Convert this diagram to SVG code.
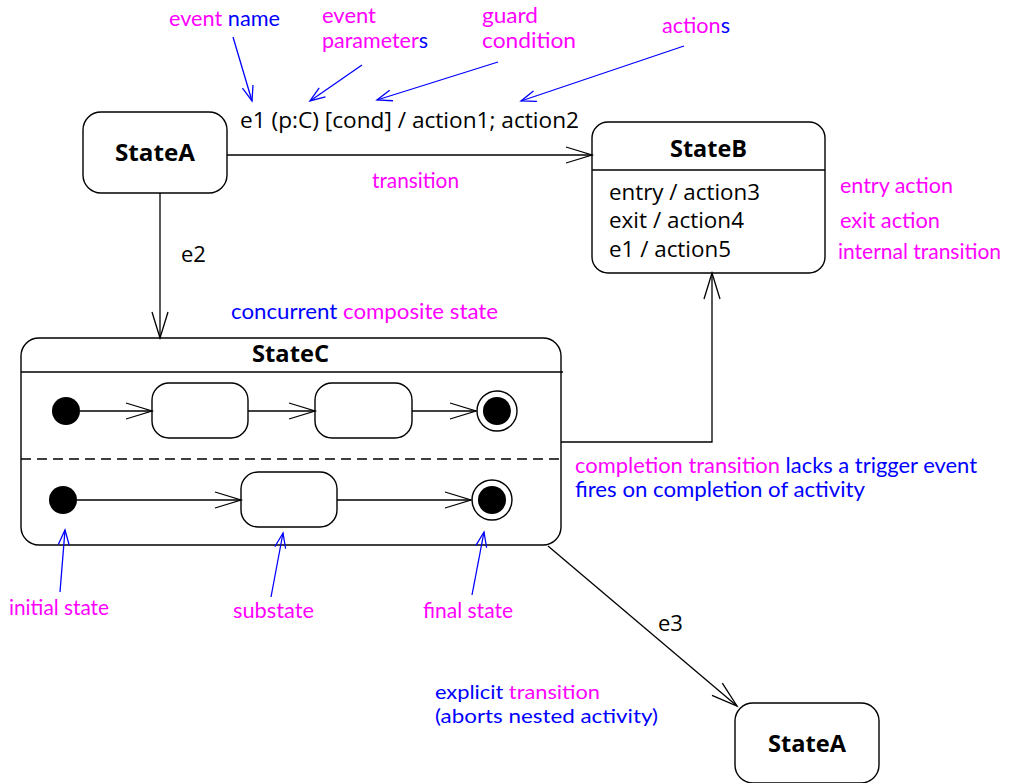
<svg xmlns="http://www.w3.org/2000/svg" width="1012" height="783" viewBox="0 0 1012 783">
<style>
.box{fill:#fff;stroke:#000;stroke-width:1.4}
.ln{fill:none;stroke:#000;stroke-width:1.3}
.bl{fill:none;stroke:#0000ff;stroke-width:1.3}
.dot{fill:#000}
.t{font-family:"Open Sans","Liberation Sans",sans-serif;font-size:22px;fill:#000}
.b{font-family:"Open Sans","Liberation Sans",sans-serif;font-size:24px;font-weight:bold;fill:#000}
.a{font-family:Lato,"Liberation Sans",sans-serif;font-size:21px;fill:#ff00ff}
.s{font-size:20px}
.u{fill:#0000ff}
</style>
<defs>
<marker id="ah" markerUnits="userSpaceOnUse" markerWidth="40" markerHeight="40" viewBox="-30 -20 40 40" refX="0" refY="0" orient="auto" overflow="visible">
<path d="M-26,-8 L0,0 L-26,8" fill="none" stroke="#000" stroke-width="1.3"/>
</marker>
<marker id="bh" markerUnits="userSpaceOnUse" markerWidth="30" markerHeight="30" viewBox="-20 -15 30 30" refX="0" refY="0" orient="auto" overflow="visible">
<path d="M-15,-5.5 L0,0 L-15,5.5" fill="none" stroke="#0000ff" stroke-width="1.3"/>
</marker>
</defs>
<rect width="1012" height="783" fill="#fff"/>

<g id="stateA">
<rect class="box" x="83" y="112" width="144" height="81" rx="18"/>
<text class="b" x="155" y="161" text-anchor="middle" textLength="80" lengthAdjust="spacingAndGlyphs">StateA</text>
</g>

<g id="stateB">
<rect class="box" x="592" y="122" width="233" height="151" rx="16"/>
<line class="ln" x1="592" y1="170" x2="825" y2="170"/>
<text class="b" x="708.5" y="157" text-anchor="middle" textLength="77" lengthAdjust="spacingAndGlyphs">StateB</text>
<text class="t" x="609" y="200" textLength="151" lengthAdjust="spacingAndGlyphs">entry / action3</text>
<text class="t" x="609" y="228" textLength="135" lengthAdjust="spacingAndGlyphs">exit / action4</text>
<text class="t" x="609" y="257" textLength="122" lengthAdjust="spacingAndGlyphs">e1 / action5</text>
</g>

<g id="stateC">
<rect class="box" x="21" y="338" width="540" height="207" rx="18"/>
<line class="ln" x1="21" y1="372" x2="563" y2="372"/>
<line class="ln" x1="21" y1="459" x2="563" y2="459" stroke-dasharray="10 6"/>
<text class="b" x="290.5" y="362" text-anchor="middle" textLength="77" lengthAdjust="spacingAndGlyphs">StateC</text>
</g>

<g id="initial1"><circle class="dot" cx="66" cy="411" r="14"/></g>
<g id="sub1"><rect class="box" x="152" y="383" width="96" height="55" rx="17"/></g>
<g id="sub2"><rect class="box" x="315" y="383" width="97" height="55" rx="17"/></g>
<g id="final1"><circle class="box" cx="497" cy="411" r="20"/><circle class="dot" cx="497" cy="411" r="14"/></g>
<g id="initial2"><circle class="dot" cx="63" cy="500" r="14"/></g>
<g id="sub3"><rect class="box" x="241" y="472" width="96" height="55" rx="17"/></g>
<g id="final2"><circle class="box" cx="492" cy="500" r="20"/><circle class="dot" cx="492" cy="500" r="14"/></g>

<g id="stateA2">
<rect class="box" x="735" y="703" width="144" height="80" rx="18"/>
<text class="b" x="807" y="752" text-anchor="middle" textLength="78" lengthAdjust="spacingAndGlyphs">StateA</text>
</g>

<g id="connectors">
<line class="ln" x1="227" y1="155" x2="592" y2="155" marker-end="url(#ah)"/>
<line class="ln" x1="160" y1="193" x2="160" y2="338" marker-end="url(#ah)"/>
<polyline class="ln" points="561,442 712,442 712,273" marker-end="url(#ah)"/>
<line class="ln" x1="548" y1="546" x2="737" y2="706" marker-end="url(#ah)"/>
<line class="ln" x1="80" y1="411" x2="152" y2="411" marker-end="url(#ah)"/>
<line class="ln" x1="248" y1="411" x2="315" y2="411" marker-end="url(#ah)"/>
<line class="ln" x1="412" y1="411" x2="476" y2="411" marker-end="url(#ah)"/>
<line class="ln" x1="77" y1="500" x2="241" y2="500" marker-end="url(#ah)"/>
<line class="ln" x1="337" y1="500" x2="471" y2="500" marker-end="url(#ah)"/>
<text class="t" x="240" y="128" textLength="339" lengthAdjust="spacingAndGlyphs">e1 (p:C) [cond] / action1; action2</text>
<text class="t" x="181" y="262">e2</text>
<text class="t" x="658" y="631">e3</text>
</g>

<g id="annotations">
<line class="bl" x1="233" y1="37" x2="252" y2="101" marker-end="url(#bh)"/>
<line class="bl" x1="362" y1="65" x2="310" y2="101" marker-end="url(#bh)"/>
<line class="bl" x1="498" y1="62" x2="377" y2="100" marker-end="url(#bh)"/>
<line class="bl" x1="684" y1="46" x2="521" y2="101" marker-end="url(#bh)"/>
<line class="bl" x1="60" y1="592" x2="65" y2="530" marker-end="url(#bh)"/>
<line class="bl" x1="271" y1="597" x2="283" y2="533" marker-end="url(#bh)"/>
<line class="bl" x1="472" y1="595" x2="484" y2="532" marker-end="url(#bh)"/>

<text class="a" x="169" y="26" textLength="111" lengthAdjust="spacingAndGlyphs">event <tspan class="u">name</tspan></text>
<text class="a" x="322" y="23" textLength="54" lengthAdjust="spacingAndGlyphs">event</text>
<text class="a" x="322" y="48" textLength="106" lengthAdjust="spacingAndGlyphs">parameter<tspan class="u">s</tspan></text>
<text class="a" x="482" y="23" textLength="56" lengthAdjust="spacingAndGlyphs">guard</text>
<text class="a" x="482" y="48" textLength="94" lengthAdjust="spacingAndGlyphs">condition</text>
<text class="a" x="662" y="33" textLength="68" lengthAdjust="spacingAndGlyphs">action<tspan class="u">s</tspan></text>
<text class="a" x="372" y="188" textLength="87" lengthAdjust="spacingAndGlyphs">transition</text>
<text class="a" x="231" y="319" textLength="267" lengthAdjust="spacingAndGlyphs"><tspan class="u">concurrent</tspan> composite state</text>
<text class="a" x="840" y="193" textLength="113" lengthAdjust="spacingAndGlyphs">entry action</text>
<text class="a" x="840" y="228" textLength="100" lengthAdjust="spacingAndGlyphs">exit action</text>
<text class="a" x="838" y="259" textLength="163" lengthAdjust="spacingAndGlyphs">internal transition</text>
<text class="a" x="575" y="473" textLength="402" lengthAdjust="spacingAndGlyphs">completion transition <tspan class="u">lacks a trigger event</tspan></text>
<text class="a u" x="575" y="497" textLength="290" lengthAdjust="spacingAndGlyphs">fires on completion of activity</text>
<text class="a" x="9" y="615" textLength="100" lengthAdjust="spacingAndGlyphs">initial state</text>
<text class="a" x="233" y="618" textLength="81" lengthAdjust="spacingAndGlyphs">substate</text>
<text class="a" x="423" y="618" textLength="90" lengthAdjust="spacingAndGlyphs">final state</text>
<text class="a s" x="435" y="699" textLength="165" lengthAdjust="spacingAndGlyphs"><tspan class="u">explicit</tspan> transition</text>
<text class="a s u" x="435" y="723" textLength="223" lengthAdjust="spacingAndGlyphs">(aborts nested activity)</text>
</g>
</svg>
